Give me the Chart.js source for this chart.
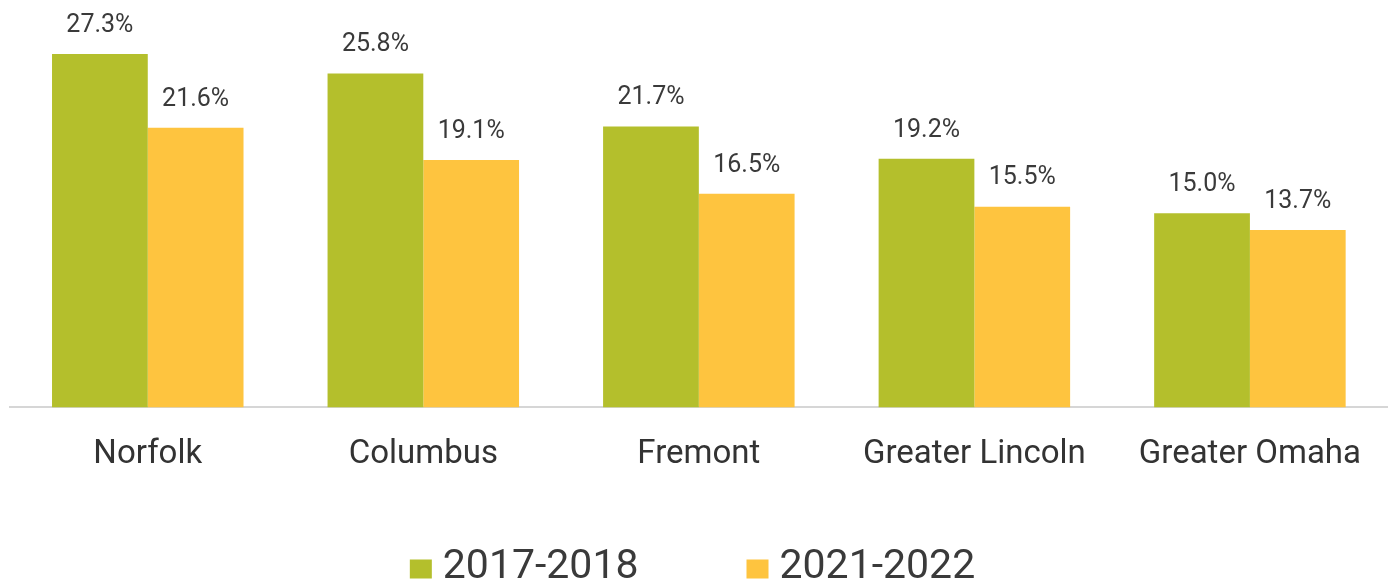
<!DOCTYPE html>
<html>
<head>
<meta charset="utf-8">
<script src="https://cdn.jsdelivr.net/npm/chart.js@4"></script>
<style>
  html, body { margin: 0; padding: 0; background: #fff; }
  #wrap { width: 1389px; height: 587px; }
</style>
</head>
<body>
<div id="wrap"><canvas id="mychart"></canvas></div>
<script>
const regions = ['Norfolk', 'Columbus', 'Fremont', 'Greater Lincoln', 'Greater Omaha'];
const period1 = [27.3, 25.8, 21.7, 19.2, 15.0];
const period2 = [21.6, 19.1, 16.5, 15.5, 13.7];
const seriesNames = ['2017-2018', '2021-2022'];
const seriesColors = ['#b4bf2c', '#fec43f'];

// value labels on top of bars
const valueLabels = {
    id: 'valueLabels',
    afterDatasetsDraw(chart) {
        const ctx = chart.ctx;
        ctx.save();
        ctx.font = '25px Roboto';
        ctx.fillStyle = '#3a3a3a';
        ctx.textAlign = 'center';
        ctx.textBaseline = 'bottom';
        chart.data.datasets.forEach((ds, i) => {
            chart.getDatasetMeta(i).data.forEach((bar, j) => {
                ctx.fillText(ds.data[j].toFixed(1) + '%', bar.x, bar.y - 16);
            });
        });
        ctx.restore();
    }
};

// legend drawn at the bottom
const bottomLegend = {
    id: 'bottomLegend',
    afterDraw(chart) {
        const ctx = chart.ctx;
        const boxW = 22, boxH = 19, textGap = 11, itemGap = 108;
        ctx.save();
        ctx.font = '41px Roboto';
        const widths = chart.data.datasets.map(ds => boxW + textGap + ctx.measureText(ds.label).width);
        const total = widths.reduce((a, b) => a + b, 0) + itemGap * (widths.length - 1);
        let x = chart.width / 2 - total / 2 - 2;
        const y = 568;
        ctx.textBaseline = 'middle';
        chart.data.datasets.forEach((ds, i) => {
            ctx.fillStyle = ds.backgroundColor;
            ctx.fillRect(x, y - boxH / 2 + 1, boxW, boxH);
            ctx.fillStyle = '#3a3a3a';
            ctx.fillText(ds.label, x + boxW + textGap, y);
            x += widths[i] + itemGap;
        });
        ctx.restore();
    }
};

const ctx = document.getElementById('mychart').getContext('2d');
let myChart = new Chart(ctx, {
    type: 'bar',
    data: {
        labels: regions,
        datasets: [
            { label: seriesNames[0], data: period1, backgroundColor: seriesColors[0] },
            { label: seriesNames[1], data: period2, backgroundColor: seriesColors[1] }
        ]
    },
    options: {
        responsive: true,
        maintainAspectRatio: false,
        animation: false,
        layout: { padding: { top: 19, left: 10, right: -14, bottom: 84 } },
        datasets: {
            bar: { barPercentage: 1, categoryPercentage: 0.695 }
        },
        plugins: {
            legend: { display: false },
            tooltip: { enabled: false }
        },
        scales: {
            x: {
                grid: { display: false, drawTicks: false },
                border: { display: true, color: '#d6d6d6', width: 2 },
                ticks: {
                    padding: 28,
                    color: '#333',
                    font: { family: 'Roboto', size: 33 }
                }
            },
            y: {
                display: false,
                min: 0,
                max: 30
            }
        }
    },
    plugins: [valueLabels, bottomLegend]
});
</script>
</body>
</html>
